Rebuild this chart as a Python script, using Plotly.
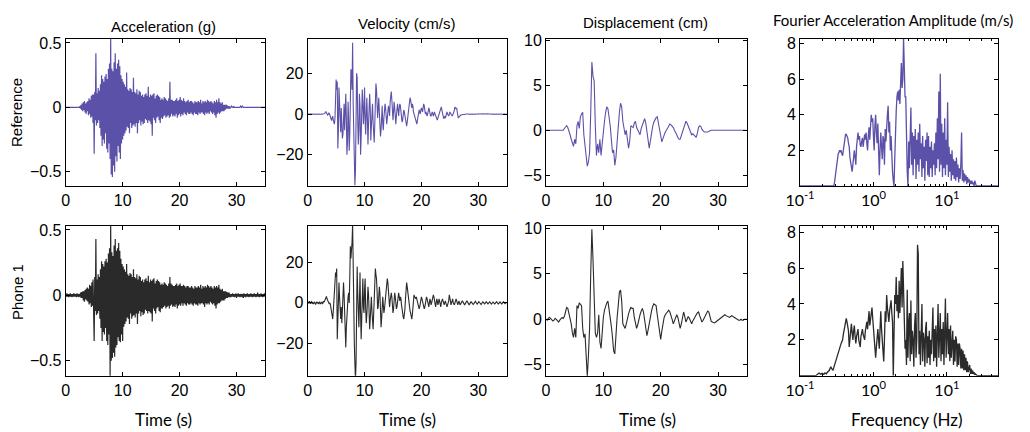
import numpy as np
import plotly.graph_objects as go

# ---------------- data ----------------
DT_AV = 0.1   # time step of acceleration / velocity readings (s)
DT_D = 0.2    # time step of displacement readings (s)
FAS_LOG_START = -1.0   # log10 of first frequency reading (Hz)
FAS_LOG_STEP = 0.01    # log10 step of the frequency readings

acc_ref = [
 0,0,0,0,0,0,0,0,0,0,
 0,0,0,0,0,0,0,0,0,0,
 0,0,0,0,0,0.01,-0.01,0.02,-0.02,0.03,
 -0.03,0.04,-0.02,0.05,-0.04,0.03,-0.05,0.04,-0.03,0.05,
 -0.06,0.07,-0.05,0.06,-0.08,0.09,-0.07,0.1,-0.12,0.1,
 -0.36,0.12,-0.1,0.42,-0.14,0.11,-0.12,0.15,-0.1,0.13,
 -0.16,0.18,-0.22,0.25,-0.3,0.22,-0.25,0.2,-0.28,0.24,
 -0.2,0.26,-0.32,0.22,-0.35,0.3,-0.28,0.34,-0.4,0.56,
 -0.52,0.3,-0.54,0.28,-0.45,0.35,-0.5,0.42,-0.38,0.3,
 -0.42,0.34,-0.3,0.37,-0.35,0.32,-0.4,0.25,-0.28,0.22,
 -0.25,0.2,-0.22,0.18,-0.2,0.16,-0.18,0.27,-0.15,0.14,
 -0.16,0.13,-0.2,0.15,-0.12,0.14,-0.16,0.12,-0.14,0.23,
 -0.13,0.12,-0.15,0.11,-0.12,0.14,-0.2,0.1,-0.12,0.13,
 -0.1,0.12,-0.14,0.09,-0.11,0.1,-0.13,0.08,-0.12,0.1,
 -0.09,0.11,-0.1,0.09,-0.12,0.16,-0.1,0.08,-0.11,0.1,
 -0.13,0.09,-0.22,0.1,-0.08,0.11,-0.1,0.07,-0.12,0.09,
 -0.08,0.1,-0.07,0.09,-0.1,0.08,-0.12,0.06,-0.08,0.07,
 -0.09,0.06,-0.07,0.08,-0.06,0.07,-0.08,0.06,-0.07,0.05,
 -0.06,0.07,-0.08,0.2,-0.07,0.06,-0.05,0.06,-0.07,0.05,
 -0.06,0.05,-0.07,0.06,-0.05,0.07,-0.08,0.05,-0.06,0.06,
 -0.05,0.08,-0.07,0.06,-0.05,0.05,-0.06,0.07,-0.04,0.05,
 -0.05,0.04,-0.06,0.05,-0.04,0.06,-0.05,0.04,-0.05,0.05,
 -0.04,0.05,-0.05,0.04,-0.06,0.03,-0.04,0.05,-0.05,0.04,
 -0.05,0.04,-0.06,0.05,-0.04,0.04,-0.05,0.06,-0.04,0.03,
 -0.04,0.05,-0.05,0.04,-0.06,0.05,-0.04,0.04,-0.05,0.06,
 -0.04,0.05,-0.05,0.04,-0.03,0.05,-0.04,0.04,-0.05,0.03,
 -0.04,0.05,-0.06,0.04,-0.08,0.06,-0.05,0.04,-0.04,0.07,
 -0.05,0.04,-0.04,0.03,-0.03,0.04,-0.03,0.02,-0.03,0.02,
 -0.02,0.02,-0.01,0.02,-0.01,0.01,-0.01,0.01,-0.01,0,
 0,0.01,0,0,0,0.01,0,0,0,0,
 0,0,0,0,0,0,0,0.01,0,0,
 0.01,0,0,0,0,0,0,0,0,0,
 0,0,0,0,0,0,0,0,0,0,
 0,0,0,0,0,0,0,0,0,0,
 0,0,0,0,0,0,0,0,0,0,
 0]

acc_phone = [
 0.01,-0.01,0.015,-0.01,0.01,-0.015,0.01,-0.01,0.015,-0.01,
 0.01,-0.015,0.01,-0.01,0.015,-0.01,0.01,-0.01,0.01,-0.015,
 0.015,-0.01,0.01,-0.015,0.01,-0.01,0.02,-0.02,0.025,-0.02,
 0.03,-0.04,0.03,-0.05,0.04,-0.03,0.05,-0.04,0.06,-0.05,
 0.05,-0.07,0.08,-0.06,0.07,-0.09,0.1,-0.08,0.12,-0.1,
 -0.35,0.14,-0.12,0.43,-0.15,0.12,-0.14,0.16,-0.12,0.14,
 -0.18,0.2,-0.25,0.26,-0.35,0.24,-0.28,0.22,-0.3,0.26,
 -0.25,0.28,-0.35,0.25,-0.38,0.32,-0.3,0.36,-0.63,0.56,
 -0.5,0.33,-0.48,0.3,-0.44,0.38,-0.47,0.43,-0.4,0.34,
 -0.38,0.36,-0.32,0.4,-0.35,0.34,-0.36,0.28,-0.3,0.24,
 -0.35,0.22,-0.24,0.2,-0.22,0.18,-0.2,0.24,-0.17,0.16,
 -0.18,0.15,-0.22,0.17,-0.14,0.16,-0.18,0.14,-0.16,0.2,
 -0.15,0.14,-0.17,0.13,-0.14,0.16,-0.22,0.12,-0.14,0.15,
 -0.12,0.14,-0.16,0.11,-0.13,0.12,-0.15,0.1,-0.14,0.12,
 -0.11,0.13,-0.12,0.11,-0.14,0.15,-0.12,0.1,-0.13,0.12,
 -0.14,0.11,-0.2,0.12,-0.1,0.13,-0.12,0.09,-0.14,0.11,
 -0.1,0.12,-0.09,0.11,-0.12,0.1,-0.13,0.08,-0.1,0.09,
 -0.1,0.08,-0.09,0.1,-0.08,0.09,-0.1,0.08,-0.09,0.07,
 -0.08,0.09,-0.1,0.14,-0.08,0.09,-0.07,0.08,-0.09,0.07,
 -0.08,0.07,-0.09,0.08,-0.07,0.09,-0.1,0.07,-0.08,0.08,
 -0.07,0.09,-0.08,0.07,-0.06,0.07,-0.08,0.08,-0.06,0.07,
 -0.07,0.06,-0.08,0.07,-0.06,0.07,-0.07,0.06,-0.07,0.06,
 -0.06,0.07,-0.07,0.06,-0.08,0.05,-0.06,0.07,-0.07,0.06,
 -0.07,0.06,-0.08,0.07,-0.06,0.06,-0.07,0.08,-0.06,0.05,
 -0.06,0.07,-0.07,0.06,-0.09,0.07,-0.06,0.06,-0.07,0.08,
 -0.06,0.07,-0.07,0.06,-0.05,0.07,-0.06,0.06,-0.07,0.05,
 -0.06,0.07,-0.08,0.06,-0.1,0.07,-0.07,0.06,-0.06,0.08,
 -0.06,0.05,-0.05,0.04,-0.04,0.05,-0.04,0.03,-0.04,0.03,
 -0.03,0.03,-0.02,0.025,-0.02,0.02,-0.015,0.02,-0.015,0.01,
 -0.015,0.01,-0.01,0.015,-0.01,0.01,-0.015,0.01,-0.01,0.015,
 -0.02,0.01,-0.01,0.015,-0.01,0.01,-0.015,0.01,-0.01,0.01,
 -0.015,0.01,-0.02,0.015,-0.01,0.01,-0.015,0.01,-0.01,0.015,
 -0.01,0.01,-0.015,0.01,-0.01,0.015,-0.01,0.01,-0.015,0.01,
 -0.01,0.015,-0.01,0.01,-0.015,0.01,-0.01,0.02,-0.01,0.01,
 -0.015,0.01,-0.01,0.015,-0.01,0.01,-0.015,0.01,-0.01,0.015,
 -0.01]

vel_ref = [
 0,0.1,0,-0.2,0,0.1,-0.1,0,0.2,0,
 -0.1,0,0.1,0,-0.2,0,0.1,0,-0.1,0,
 0.1,0,-0.1,0,0.2,0,-0.1,0,0.1,0,
 0.3,0.8,1.2,0.6,-0.2,-0.5,-0.2,0.5,0.3,-0.5,
 -1.5,-2.8,-3.2,-2,-1,-3,-4.5,-5,-2,8,
 17,12,16,-17,-8,13,6,-5,-9,3,
 -4,-12,-10,-3,5,-8,2,10,-2,-20,
 -14,6,-3,-18,-10,5,22,20,12,35,
 5,-10,-30,-35,-28,-5,20,18,-3,-15,
 -8,10,4,-20,-12,-2,12,5,-5,2,
 13,-3,-10,0,8,-2,-15,-5,6,10,
 3,-13,-6,2,5,-4,-10,-14,-5,6,
 15,12,4,-2,3,8,1,-6,-11,-8,
 -2,4,-5,-8,-2,2,5,3,-3,-5,
 -2,1,4,2,-1,6,8,11,7,2,
 -3,1,6,3,-2,-5,-1,3,5,2,
 -1,3,5,4,1,-2,-4,-3,0,2,
 1,-1,-3,-5,-6,-4,-1,2,4,6,
 8,7,5,3,5,4,1,0,-1,-2,
 -3,-4,-5,-3,-1,0,2,1,0,2,
 3,2,1,3,5,4,2,0,1,0,
 -1,0,2,3,2,0,-1,-1,0,1,
 0,-1,0,1,0,-1,-2,-3,-3,-2,
 -1,0,1,2,3,3.5,2,0,-1,-2,
 -2,-1,-2,-1,0,1,0,-1,-1,0,
 1,0.5,0,-1,-1,-0.5,0,1,2,3.5,
 3,2.5,3,1,-1,-2,-1.5,-1,-0.5,-0.5,
 -0.5,-0.3,-0.3,-0.2,-0.2,-0.3,-0.2,-0.1,-0.2,0,
 0,0.1,0,-0.1,0,0.1,0,-0.1,0,0.1,
 0,-0.1,0,0.1,0,0,-0.1,0,0.1,0,
 0,0.1,0,-0.1,0,0,0.1,0,-0.1,0,
 0.1,0,-0.1,0,0,0.1,0,0,-0.1,0,
 0,0.1,0,-0.1,0,0.1,0,0,-0.1,0,
 0.1,0,0,-0.1,0,0.1,0,-0.1,0,0,
 0.1,0,-0.1,0,0,0.1,0,-0.1,0,0.1,
 0]

vel_phone = [
 0,0.5,-0.3,0.8,0.2,-0.5,0.3,0.6,-0.2,0.1,
 -0.6,0.2,0.5,-0.3,-0.8,0.1,0.4,-0.2,0.3,-0.5,
 0.2,0.6,-0.4,-0.1,0.5,0.3,-0.6,0.2,0.8,0.4,
 1.0,2.0,3.0,3.2,2.0,1.0,0.5,0.0,-0.5,0,
 -1,-3,-5,-6,-8,-4,2,8,12,15,
 13,17,-18,-10,4,10,3,-5,-8,-2,
 -10,-4,6,10,4,-8,-15,-22,-12,-5,
 0,3,5,0,12,28,22,25,30,39,
 10,-5,-20,-30,-38,-30,-10,18,5,-6,
 -12,0,15,-5,-18,-8,5,12,-2,-5,
 6,12,-3,-10,-6,3,8,4,-6,-13,
 -8,-2,3,-4,-9,-13,-6,4,10,17,
 14,12,6,-3,-2,3,8,5,-5,-12,
 -8,-3,3,-1,-5,-3,1,3,5,8,
 12,10,6,2,-2,1,4,5,3,-2,
 -5,-3,1,5,3,0,-3,-2,2,4,
 5,3,1,3,2,-1,-4,-5,-7,-8,
 -6,-3,2,6,10,8,5,3,0,-2,
 -4,-5,-7,-8,-6,-2,2,4,3,2,
 2,3,2,1,0,-1,-3,-2,0,1,
 3,2,1,0,-1,-3,-2,0,1,3,
 2,0,-1,-2,0,2,1,-1,0,1,
 2,4,3,1,-1,-2,0,2,1,-1,
 0,2,1,-1,-2,0,1,2,1,0,
 -1,0,1,0,-1,-2,-1,0,1,4,
 3,1,-1,0,1,2,0,-1,-1,0,
 1,2,1,0,-1,0,1,0,-1,-0.5,
 0,0.5,1,0.5,0,-0.5,-1,-0.5,0,0.5,
 1,0.5,0,-0.5,-1,-0.5,0,0.5,0.3,0,
 -0.3,-0.8,-0.5,0,0.5,0.8,0.3,-0.2,-0.6,-0.3,
 0.2,0.6,0.3,-0.2,-0.5,-0.8,-0.3,0.2,0.5,0.2,
 -0.2,-0.5,-0.2,0.3,0.6,0.2,-0.3,-0.5,-0.2,0.2,
 0.5,0.3,-0.2,-0.6,-0.3,0.2,0.4,0.1,-0.3,-0.5,
 -0.2,0.3,0.6,0.3,-0.2,-0.5,-0.3,0.2,0.5,0.2,
 -0.2,-0.5,-0.3,0.2,0.5,0.3,-0.2,-0.4,-0.1,0.2,
 0]

disp_ref = [
 0,0,0,0,0,0,0,0,0,0,0,0,0,0,0,
 0,0.2,0.4,0.5,0.3,0.0,-0.5,-1.0,-1.5,-1.8,
 -1.0,-1.5,0.5,1.0,0.2,1.5,1.8,2.0,-0.5,-1.5,
 -3.0,-4.0,-3.5,-2.5,2.0,7.6,6.0,5.5,0.5,-2.8,
 -1.5,-2.5,-1.0,-2.8,-1.5,0.0,1.0,2.0,2.6,2.4,
 1.5,0.5,-1.0,-2.5,-2.2,-3.9,-3.0,-1.0,1.0,2.0,
 3.0,2.6,1.0,0.0,-0.5,0.0,-1.0,-2.0,-1.2,0.5,
 0.4,0.3,0.8,1.0,0.3,0.0,-0.4,-0.5,0.2,0.6,
 1.0,1.3,0.8,0.0,-1.0,-2.0,-1.2,-0.3,0.4,0.9,
 1.2,1.4,1.5,0.8,0.0,-1.0,-1.3,-0.9,-0.5,-0.2,
 0.0,0.3,0.5,0.7,0.6,0.5,0.3,0.0,-0.2,-0.5,
 -0.8,-1.0,-1.0,-0.6,-0.1,0.4,0.8,1.0,0.8,0.5,
 0.2,-0.2,-0.5,-0.4,-0.5,-0.7,-0.8,-0.3,0.3,0.5,
 0.4,0.1,-0.1,-0.2,-0.2,-0.2,-0.2,-0.1,0,0,
 0,0,0,0,0,0,0,0,0,0,
 0,0,0,0,0,0,0,0,0,0,
 0,0,0,0,0,0,0,0,0,0,
 0]

disp_phone = [
 0,-0.1,0.1,0.2,0.1,-0.1,-0.2,-0.1,0.1,0.0,-0.2,-0.3,-0.1,0.1,0.2,
 0.1,0.3,0.8,1.3,1.2,0.6,-0.2,-0.5,-1.5,-2.0,
 -1.0,-2.0,1.5,1.2,1.8,1.7,1.5,-1.0,-2.0,-1.6,
 -5.0,-6.3,-4.0,-1.0,5.0,9.9,6.5,2.0,-1.5,-2.0,
 -1.5,0.5,-2.5,-3.2,-1.0,0.2,1.0,1.5,1.8,2.0,
 1.2,0.2,-0.8,-2.0,-3.5,-3.8,-1.5,0.2,1.5,3.0,
 3.2,2.0,-0.5,-0.8,-1.0,-0.5,0.3,0.6,1.0,1.3,
 1.2,1.2,0.2,-0.5,-1.0,-0.6,0.2,0.5,0.9,1.2,
 0.8,0.0,-1.0,-1.8,-1.2,-0.3,0.3,0.9,1.4,1.7,
 1.6,1.5,0.5,-0.5,-1.5,-2.2,-1.3,-0.5,0.2,0.5,
 0.7,0.9,1.0,0.8,0.5,0.0,-0.5,-0.2,0.3,0.5,
 0.2,-0.5,-1.0,-0.5,0.3,0.8,0.3,-0.3,0.0,0.3,
 0.1,-0.3,-0.5,-0.2,0.1,0.3,0.5,0.7,0.8,0.4,
 -0.1,-0.3,-0.1,0.2,0.4,0.7,0.9,0.8,0.3,-0.2,
 -0.3,-0.4,-0.4,-0.3,-0.2,-0.1,0.0,0.1,0.3,0.4,
 0.5,0.5,0.4,0.3,0.2,0.2,0.3,0.4,0.3,0.2,
 0.1,0.0,0.0,-0.1,-0.1,0.0,-0.1,-0.1,0.0,0.0,
 0.0]

fas_ref = [
 0,0,0,0,0,0,0,0,0,0, 0,0,0,0,0,0,0,0,0,0,
 0,0,0,0,0,0,0,0,0,0, 0,0,0,0,0,0,0,0,0,0,
 0,0,0,0,0,0,0,
 0.2,0.6,1.0,1.3,1.6,1.8,1.9,2.0,1.9,2.0,1.8,1.7,2.0,
 2.4,2.7,2.9,2.9,2.8,2.7,2.4,2.2,1.6,1.2,
 1.0,0.8,1.2,1.6,2.0,1.6,1.2,2.2,2.8,3.0,
 2.6,2.8,2.3,2.2,2.5,2.7,2.2,2.5,2.9,2.6,
 3.0,2.4,2.0,2.8,3.3,2.6,3.6,4.0,3.6,3.8,
 2.8,2.0,3.4,4.0,3.0,2.4,3.5,1.8,0.6,2.0,
 3.0,2.2,1.5,2.8,2.6,1.2,3.2,2.5,3.8,4.0,
 4.5,3.0,3.6,2.0,2.8,1.4,0.8,0.3,0.0,1.5,
 3.5,4.2,5.0,5.3,4.8,5.4,4.6,5.8,6.9,5.5,
 6.0,8.3,6.5,5.0,5.0,2.0,0.8,0.0,2.5,1.0,
 3.5,4.4,1.2,3.0,0.6,2.8,1.5,3.2,0.4,2.6,
 1.2,3.0,0.8,3.5,1.5,2.4,0.5,2.8,1.0,2.2,
 0.3,2.6,1.4,3.0,0.6,2.8,0.5,2.2,1.0,2.5,
 0.5,2.0,1.2,2.4,0.6,3.0,1.0,3.8,1.5,5.3,
 0.8,6.3,1.2,3.5,0.5,3.0,1.0,3.8,0.6,2.6,
 1.2,4.7,0.5,2.2,0.8,1.8,0.3,2.0,0.6,1.5,
 0.4,1.4,0.3,1.6,0.5,1.2,0.2,1.0,0.4,1.2,
 3.0,0.3,0.9,0.2,0.7,0.3,0.6,0.1,0.5,0.2,
 0.4,0.1,0.3,0.1,0.3,0.1,0.2,0.0,0.3,0.1,
 0,0,0,0,0,0,0,0,0,0, 0,0,0,0,0,0,0,0,0,0,
 0,0,0,0,0,0,0,0,0,0, 0]

fas_phone = [
 0,0,0,0,0,0,0,0,0,0, 0,0,0,0,0,0,0,0,0,0,
 0,0,
 0.02,0.05,0.1,0.12,0.15,0.12,0.08,0.1,
 0.14,0.12,0.08,0.1,0.15,0.12,0.1,0.18,0.22,0.26,
 0.3,0.42,0.5,0.4,0.32,0.3,0.45,0.6,0.7,0.85,
 1.0,1.2,1.35,1.5,1.6,1.7,1.8,1.9,2.0,2.3,
 2.6,2.9,3.1,3.2,3.0,2.7,2.5,1.6,2.2,2.6,
 2.9,2.4,2.0,2.5,2.8,2.2,1.8,2.2,2.5,2.6,
 2.0,1.8,1.6,2.2,2.4,2.6,2.3,2.1,2.0,2.5,
 2.8,3.0,2.6,3.2,3.6,2.8,3.2,3.5,3.8,3.2,
 2.5,2.0,1.4,1.0,1.6,2.2,2.6,2.0,1.5,2.6,
 3.6,2.6,1.8,1.2,0.8,2.0,3.6,3.0,4.5,3.8,
 3.4,3.0,3.6,3.9,4.2,3.5,3.0,0.0,2.5,4.5,
 4.0,5.5,3.6,4.5,3.2,5.3,3.5,5.0,6.0,3.8,
 6.4,4.8,3.0,1.5,2.0,0.6,4.8,1.0,3.0,3.5,
 0.8,4.2,1.2,2.5,2.0,0.5,2.8,3.5,1.0,2.0,
 7.3,6.8,1.2,2.5,0.6,3.0,4.0,0.8,2.4,2.0,
 0.5,2.6,3.0,0.7,2.2,1.0,2.5,0.6,2.0,1.2,
 3.0,3.8,0.8,2.6,1.0,2.8,0.5,3.2,4.0,1.0,
 3.0,3.5,0.8,2.6,1.2,3.0,0.6,3.4,4.3,1.0,
 3.2,3.5,1.2,2.6,0.8,2.8,1.0,2.2,2.5,0.6,
 2.0,0.8,2.2,2.0,0.5,1.8,0.6,1.8,1.5,0.4,
 1.5,0.4,1.4,0.3,1.2,0.3,1.0,0.2,0.8,0.2,
 0.6,0.6,0.1,0.4,0.1,0.3,0.1,0.2,0.05,0.1,
 0.05,
 0,0,0,0,0,0,0,0,0,0, 0,0,0,0,0,0,0,0,0,0,
 0,0,0,0,0,0,0,0,0,0]

col_titles = ["Acceleration (g)", "Velocity (cm/s)", "Displacement (cm)",
              "Fourier Acceleration Amplitude (m/s)"]
row_titles = ["Reference", "Phone 1"]
time_ticks = [0, 10, 20, 30]
freq_ticks = [0.1, 1, 10]
freq_tick_text = ["10<sup>-1</sup>", "10<sup>0</sup>", "10<sup>1</sup>"]

# ---------------- styling ----------------
REF_COLOR = "#5b51a9"
PHONE_COLOR = "#2a2a2a"
PAGE_MARGIN = 8            # default body margin of the html page
WIN_W, WIN_H = 1030, 432
W, H = WIN_W - PAGE_MARGIN, WIN_H - PAGE_MARGIN
AX_FAMILY = "Liberation Sans, Arial, sans-serif"
AX_FONT = dict(family=AX_FAMILY, size=16, color="black")
CAL_FONT = "Lato, Open Sans, sans-serif"

# panel frames in window pixels
col_px = [(65.7, 265.0), (307.7, 506.7), (546.0, 746.7), (800.0, 998.3)]
row_px = [(39.0, 186.0), (226.0, 375.7)]

def px_x(p):
    return (p - PAGE_MARGIN) / W

def px_y(p):
    return 1 - (p - PAGE_MARGIN) / H

def t_axis(values, dt):
    return np.arange(len(values)) * dt

def f_axis(values):
    return 10 ** (FAS_LOG_START + FAS_LOG_STEP * np.arange(len(values)))

series = [
    (t_axis(acc_ref, DT_AV), acc_ref, REF_COLOR, [-0.61, 0.531], [-0.5, 0, 0.5], None, 1.2),
    (t_axis(vel_ref, DT_AV), vel_ref, REF_COLOR, [-35.4, 36.9], [-20, 0, 20], None, 1.1),
    (t_axis(disp_ref, DT_D), disp_ref, REF_COLOR, [-6.2, 10.15], [-5, 0, 5, 10], None, 1.1),
    (f_axis(fas_ref), fas_ref, REF_COLOR, [0, 8.25], [2, 4, 6, 8], "log", 1.3),
    (t_axis(acc_phone, DT_AV), acc_phone, PHONE_COLOR, [-0.615, 0.53], [-0.5, 0, 0.5], None, 1.2),
    (t_axis(vel_phone, DT_AV), vel_phone, PHONE_COLOR, [-36, 38], [-20, 0, 20], None, 1.1),
    (t_axis(disp_phone, DT_D), disp_phone, PHONE_COLOR, [-6.2, 10.25], [-5, 0, 5, 10], None, 1.1),
    (f_axis(fas_phone), fas_phone, PHONE_COLOR, [0, 8.35], [2, 4, 6, 8], "log", 1.3),
]

fig = go.Figure()
layout = dict(
    width=W, height=H,
    margin=dict(l=0, r=0, t=0, b=0, autoexpand=False),
    paper_bgcolor="white", plot_bgcolor="white",
    showlegend=False,
)

minor_log = [v * d for d in (0.1, 1, 10) for v in range(2, 10)]

for k, (x, y, color, yrange, yticks, xtype, lw) in enumerate(series):
    r, c = divmod(k, 4)
    n = k + 1
    xa = "x" if n == 1 else f"x{n}"
    ya = "y" if n == 1 else f"y{n}"
    fig.add_trace(go.Scatter(x=x, y=y, mode="lines", xaxis=xa, yaxis=ya,
                             line=dict(color=color, width=lw), hoverinfo="skip"))
    common = dict(showline=True, linecolor="black", linewidth=1, mirror="ticks",
                  ticks="inside", ticklen=4, tickcolor="black", showgrid=False,
                  zeroline=False, tickfont=AX_FONT, automargin=False)
    if xtype == "log":
        xax = dict(common, type="log", range=[-1, 1.7], tickmode="array",
                   tickvals=freq_ticks, ticktext=freq_tick_text,
                   tickfont=dict(family=CAL_FONT, size=16, color="black"),
                   minor=dict(tickmode="array", tickvals=minor_log, ticks="inside",
                              ticklen=2, tickcolor="black", showgrid=False))
    else:
        xax = dict(common, range=[0, 35], tickmode="array", tickvals=time_ticks)
    xax.update(domain=[px_x(col_px[c][0]), px_x(col_px[c][1])], anchor=ya)
    yax = dict(common, range=yrange, tickmode="array", tickvals=yticks,
               domain=[px_y(row_px[r][1]), px_y(row_px[r][0])], anchor=xa)
    layout["xaxis" if n == 1 else f"xaxis{n}"] = xax
    layout["yaxis" if n == 1 else f"yaxis{n}"] = yax

annotations = []
title_pos = [(163, 26), (407, 24), (645, 23), (893, 20)]
for i, txt in enumerate(col_titles):
    fam = CAL_FONT if i == 3 else AX_FAMILY
    annotations.append(dict(text=txt, x=px_x(title_pos[i][0]), y=px_y(title_pos[i][1]),
                            xref="paper", yref="paper", showarrow=False,
                            xanchor="center", yanchor="middle",
                            font=dict(family=fam, size=15, color="black")))
for txt, ypx in zip(row_titles, [113, 292]):
    annotations.append(dict(text=txt, x=px_x(17), y=px_y(ypx), xref="paper", yref="paper",
                            showarrow=False, textangle=-90, xanchor="center", yanchor="middle",
                            font=dict(family=AX_FAMILY, size=15, color="black")))
for txt, xpx in [("Time (s)", 163), ("Time (s)", 407), ("Time (s)", 647), ("Frequency (Hz)", 907)]:
    annotations.append(dict(text=txt, x=px_x(xpx), y=px_y(419), xref="paper", yref="paper",
                            showarrow=False, xanchor="center", yanchor="middle",
                            font=dict(family=CAL_FONT, size=17, color="black")))
layout["annotations"] = annotations
fig.update_layout(**layout)
fig.write_html("out.html")
